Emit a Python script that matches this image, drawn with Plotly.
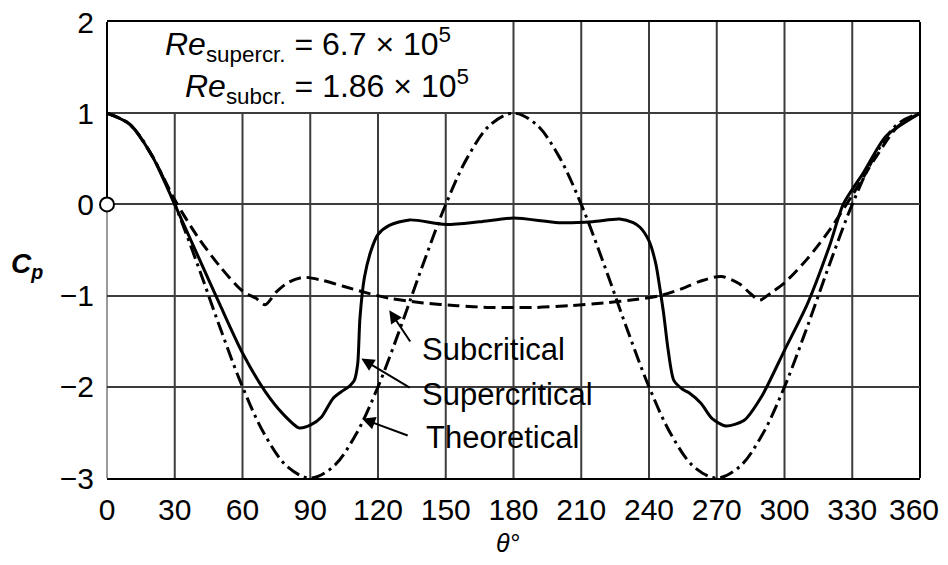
import plotly.graph_objects as go

# ---- data ----
theta_theory = [0, 10, 20, 30, 40, 50, 60, 70, 80, 90, 100, 110, 120, 130, 140, 150, 160, 170, 180,
                190, 200, 210, 220, 230, 240, 250, 260, 270, 280, 290, 300, 310, 320, 330, 340, 350, 360]
cp_theory = [1, 0.879, 0.532, 0, -0.653, -1.347, -2, -2.532, -2.879, -3, -2.879, -2.532, -2, -1.347,
             -0.653, 0, 0.532, 0.879, 1, 0.879, 0.532, 0, -0.653, -1.347, -2, -2.532, -2.879, -3,
             -2.879, -2.532, -2, -1.347, -0.653, 0, 0.532, 0.879, 1]

theta_sub = [0, 10, 20, 30, 40, 50, 60, 66, 70, 75, 80, 87, 95, 105, 115, 125, 140, 155, 170, 180,
             190, 205, 220, 235, 245, 255, 263, 272, 280, 285, 289, 294, 300, 310, 320, 330, 340, 350, 360]
cp_sub = [1, 0.88, 0.53, 0.05, -0.35, -0.68, -0.95, -1.03, -1.1, -0.96, -0.86, -0.8, -0.83, -0.9,
          -0.97, -1.03, -1.08, -1.11, -1.13, -1.13, -1.13, -1.11, -1.08, -1.04, -1.0, -0.92, -0.84,
          -0.79, -0.87, -0.98, -1.05, -0.97, -0.86, -0.6, -0.28, 0.1, 0.5, 0.85, 1]

theta_sup = [0, 10, 20, 30, 40, 50, 60, 70, 78, 85, 90, 95, 100, 104, 107, 109.5, 111, 112, 114, 117,
             120, 125, 134, 150, 165, 180, 200, 215, 227, 233, 236, 240, 243, 245, 246.5, 248.5, 251,
             255, 258, 263, 268, 274, 282, 290, 300, 310, 320, 326, 335, 345, 360]
cp_sup = [1, 0.88, 0.53, 0.0, -0.55, -1.1, -1.63, -2.05, -2.3, -2.45, -2.42, -2.33, -2.13, -2.05,
          -2.0, -1.93, -1.75, -1.25, -0.8, -0.5, -0.33, -0.23, -0.17, -0.22, -0.19, -0.15, -0.2,
          -0.19, -0.16, -0.2, -0.25, -0.4, -0.65, -0.95, -1.2, -1.6, -1.93, -2.03, -2.07, -2.18,
          -2.35, -2.43, -2.37, -2.1, -1.6, -1.1, -0.45, 0.0, 0.35, 0.75, 1]

x_ticks = [0, 30, 60, 90, 120, 150, 180, 210, 240, 270, 300, 330, 360]
x_ticktext = ["0", "30", "60", "90", "120", "150", "180", "210", "240", "270", "300", "330", "360"]
y_ticks = [2, 1, 0, -1, -2, -3]
y_ticktext = ["2", "1", "0", "−1", "−2", "−3"]

GRID = "#3c3c3c"
FONT = "Liberation Sans"

fig = go.Figure()

fig.add_trace(go.Scatter(x=theta_theory, y=cp_theory, mode="lines",
                         line=dict(color="black", width=3, dash="14px,5px,3px,5px", shape="spline"),
                         name="Theoretical", showlegend=False))
fig.add_trace(go.Scatter(x=theta_sub, y=cp_sub, mode="lines",
                         line=dict(color="black", width=3, dash="12px,6px", shape="spline", smoothing=0.8),
                         name="Subcritical", showlegend=False))
fig.add_trace(go.Scatter(x=theta_sup, y=cp_sup, mode="lines",
                         line=dict(color="black", width=3, shape="spline", smoothing=0.7),
                         name="Supercritical", showlegend=False))
fig.add_trace(go.Scatter(x=[0], y=[0], mode="markers", cliponaxis=False,
                         marker=dict(symbol="circle", size=14, color="white",
                                     line=dict(color="black", width=2)),
                         showlegend=False))

shapes = []
for xv in x_ticks[1:-1]:
    shapes.append(dict(type="line", xref="x", yref="y", x0=xv, x1=xv, y0=-3,
                       y1=(2 if xv >= 180 else 1), layer="below",
                       line=dict(color=GRID, width=2)))
# frame: left edge black above Cp = 0, light grey below; right edge black
shapes.append(dict(type="line", xref="paper", yref="paper", x0=0, x1=0, y0=0.6, y1=1,
                   layer="below", line=dict(color="black", width=2)))
shapes.append(dict(type="line", xref="paper", yref="paper", x0=0, x1=0, y0=0, y1=0.6,
                   layer="below", line=dict(color="#9a9a9a", width=2)))
shapes.append(dict(type="line", xref="paper", yref="paper", x0=1, x1=1, y0=0, y1=1,
                   layer="below", line=dict(color="black", width=2)))
fig.update_layout(shapes=shapes)

annotations = [
    dict(x=24.8, y=1.75, xref="x", yref="y", xanchor="left", yanchor="middle", showarrow=False,
         text="<i>Re</i><sub>supercr.</sub> = 6.7 × 10<sup>5</sup>",
         font=dict(family=FONT, size=32, color="black")),
    dict(x=33.6, y=1.29, xref="x", yref="y", xanchor="left", yanchor="middle", showarrow=False,
         text="<i>Re</i><sub>subcr.</sub> = 1.86 × 10<sup>5</sup>",
         font=dict(family=FONT, size=32, color="black")),
    dict(x=138.5, y=-1.59, xref="x", yref="y", xanchor="left", yanchor="middle", showarrow=False,
         text="Subcritical", font=dict(family=FONT, size=31, color="black")),
    dict(x=138.5, y=-2.08, xref="x", yref="y", xanchor="left", yanchor="middle", showarrow=False,
         text="Supercritical", font=dict(family=FONT, size=31, color="black")),
    dict(x=140.5, y=-2.56, xref="x", yref="y", xanchor="left", yanchor="middle", showarrow=False,
         text="Theoretical", font=dict(family=FONT, size=31, color="black")),
    dict(x=125, y=-1.16, ax=134.7, ay=-1.52, xref="x", yref="y", axref="x", ayref="y", text="",
         showarrow=True, arrowhead=2, arrowsize=1.3, arrowwidth=2, arrowcolor="black"),
    dict(x=112.6, y=-1.69, ax=134.7, ay=-2.02, xref="x", yref="y", axref="x", ayref="y", text="",
         showarrow=True, arrowhead=2, arrowsize=1.3, arrowwidth=2, arrowcolor="black"),
    dict(x=113, y=-2.35, ax=133.8, ay=-2.54, xref="x", yref="y", axref="x", ayref="y", text="",
         showarrow=True, arrowhead=2, arrowsize=1.3, arrowwidth=2, arrowcolor="black"),
    dict(x=-0.098, y=0.466, xref="paper", yref="paper", xanchor="center", yanchor="middle",
         showarrow=False, text="<b><i>C<sub>p</sub></i></b>",
         font=dict(family=FONT, size=28, color="black")),
    dict(x=0.493, y=-0.142, xref="paper", yref="paper", xanchor="center", yanchor="middle",
         showarrow=False, text="<i>θ°</i>", font=dict(family=FONT, size=25, color="black")),
    # last x tick label, nudged inward so it is not clipped at the page edge (as in the reference)
    dict(x=0.9925, y=-0.068, xref="paper", yref="paper", xanchor="center", yanchor="middle",
         showarrow=False, text=x_ticktext[-1], font=dict(family=FONT, size=30, color="black")),
]
fig.update_layout(annotations=annotations)

fig.update_xaxes(range=[0, 360], tickmode="array", tickvals=x_ticks,
                 ticktext=x_ticktext[:-1] + [""], showgrid=False, zeroline=False,
                 showline=True, linecolor="black", linewidth=2, mirror=True,
                 ticks="", ticklabelstandoff=4, automargin=False, ticklabeloverflow="allow",
                 tickfont=dict(family=FONT, size=30, color="black"))
fig.update_yaxes(range=[-3, 2], tickmode="array", tickvals=y_ticks,
                 ticktext=y_ticktext, showgrid=True,
                 gridcolor=GRID, gridwidth=2, zeroline=False,
                 showline=False,
                 ticks="", ticklabelstandoff=12, automargin=False, ticklabeloverflow="allow",
                 tickfont=dict(family=FONT, size=30, color="black"))

# the page body adds an 8px margin; size/margins compensate so the plot area lands
# at the same screen position as in the reference
fig.update_layout(width=932, height=549, margin=dict(l=99, r=20, t=14, b=79),
                  plot_bgcolor="white", paper_bgcolor="white", showlegend=False)

fig.write_html("out.html")
